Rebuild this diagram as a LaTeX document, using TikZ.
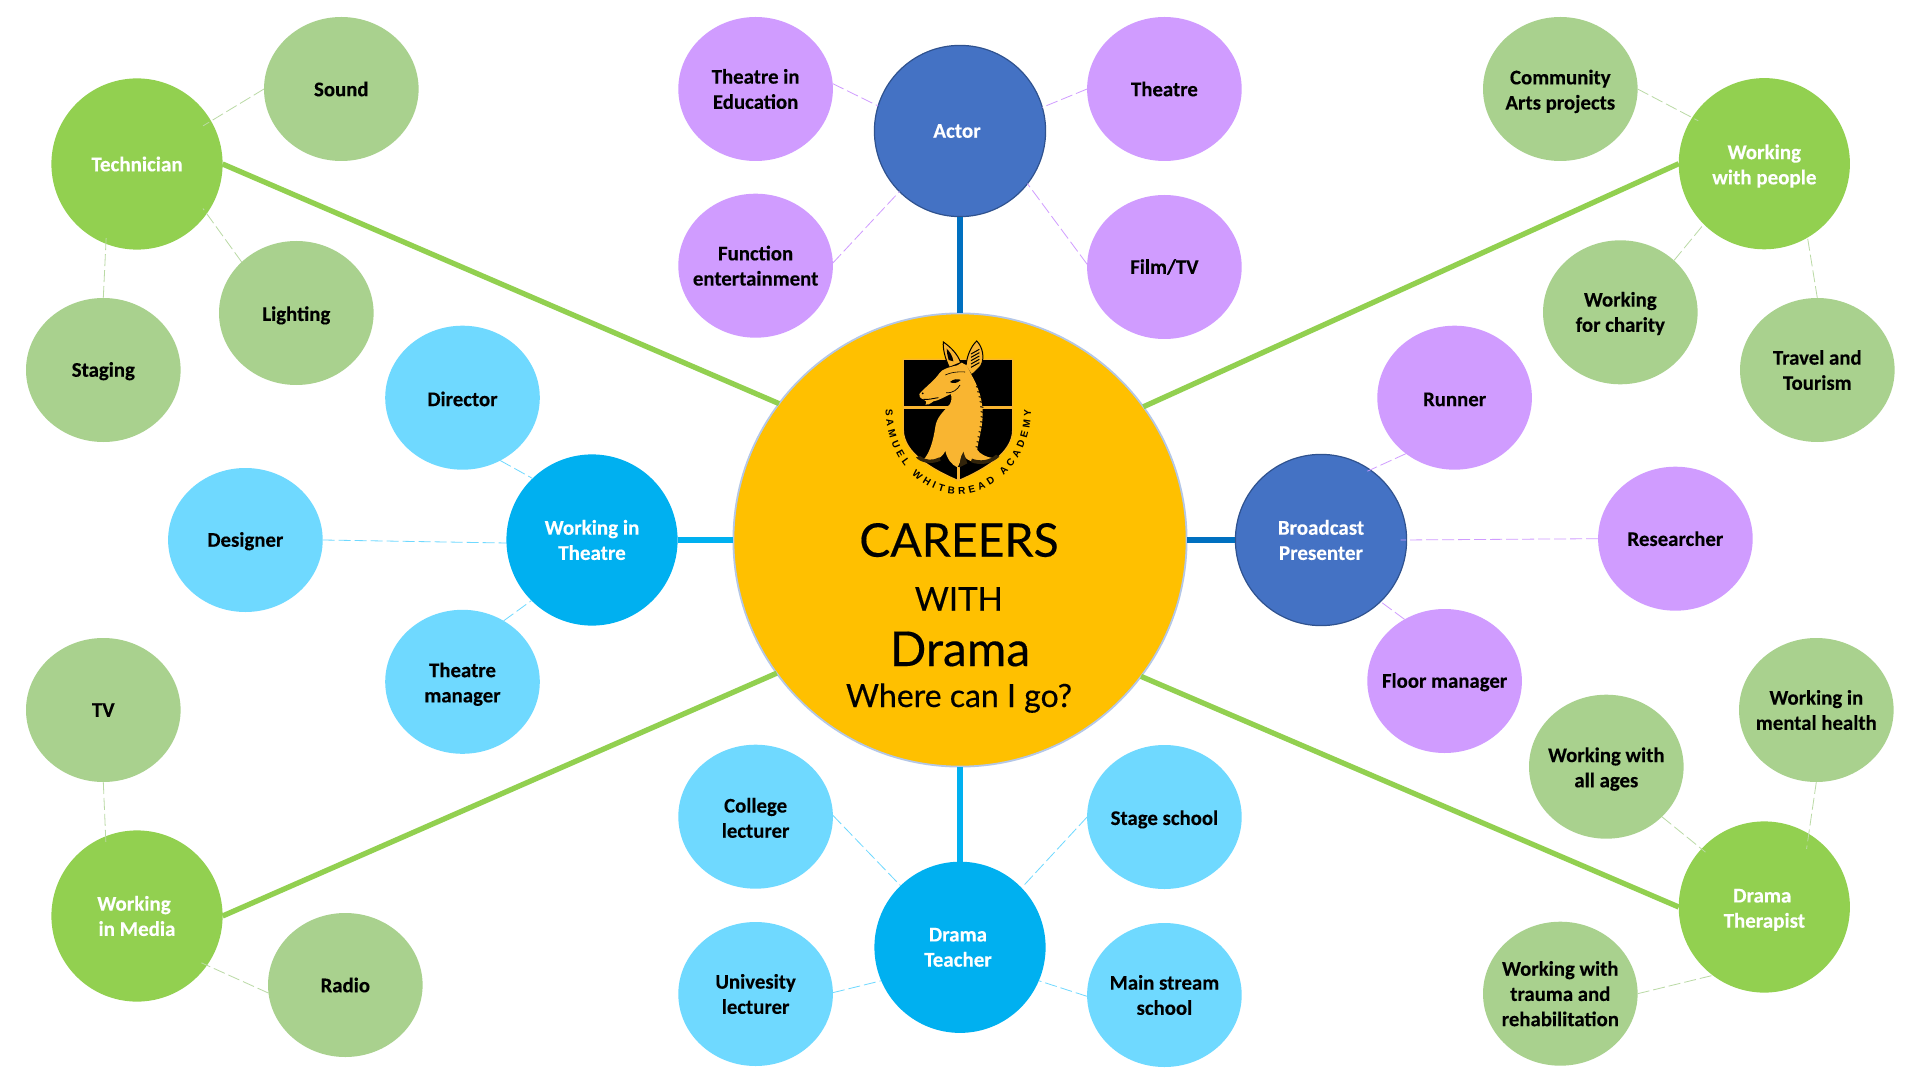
\documentclass[tikz,border=0pt]{standalone}
\usepackage{fontspec}
\setmainfont{Carlito}[BoldFeatures={FakeBold=0.25}]
\newfontfamily\titlefont{Lato}[FakeBold=0.35]
\newfontfamily\logofont{Liberation Sans}
\usetikzlibrary{calc,decorations.text,shapes.geometric}
\definecolor{hubgold}{HTML}{FFC000}
\definecolor{hubedge}{HTML}{B4C7E7}
\definecolor{greenhub}{HTML}{92D050}
\definecolor{greensat}{HTML}{A9D18E}
\definecolor{skyhub}{HTML}{00B0F0}
\definecolor{skysat}{HTML}{6FD9FF}
\definecolor{royalhub}{HTML}{4472C4}
\definecolor{royaledge}{HTML}{2F528F}
\definecolor{royalline}{HTML}{0070C0}
\definecolor{lilac}{HTML}{D09CFF}
\definecolor{deer}{HTML}{F9B531}
\newcommand\lowone{\rule{0pt}{8.5pt}}
\newcommand\lowtwo{\rule{0pt}{9.7pt}}
\tikzset{
  sat/.style={ellipse,inner sep=-30pt,outer sep=0pt,minimum width=77.3pt,minimum height=72pt,align=center,text=black,font=\fontsize{10.4}{12.6}\selectfont\bfseries},
  satgreen/.style={sat,fill=greensat},
  satsky/.style={sat,fill=skysat},
  satlilac/.style={sat,fill=lilac},
  hubnode/.style={ellipse,inner sep=-30pt,outer sep=0pt,minimum width=85.6pt,minimum height=85.6pt,align=center,text=white,font=\fontsize{10.5}{12.6}\selectfont\bfseries},
  hubgreen/.style={hubnode,fill=greenhub},
  hubsky/.style={hubnode,fill=skyhub},
  hubroyal/.style={hubnode,fill=royalhub,draw=royaledge,line width=.6pt},
  spoke/.style={line width=2.65pt},
  twig/.style={line width=.4pt,dash pattern=on 6pt off 2pt},
  twiggreen/.style={twig,draw=greensat!80!white},
  twigsky/.style={twig,draw=skysat},
  twiglilac/.style={twig,draw=lilac},
  titletext/.style={anchor=base,text=black,inner sep=0pt}
}
\begin{document}
\begin{tikzpicture}[x=.5pt,y=-.5pt]
\useasboundingbox (0,0) rectangle (1920,1080);
\fill[white] (0,0) rectangle (1920,1080);

\node[ellipse,fill=hubgold,draw=hubedge,line width=.9pt,inner sep=0pt,outer sep=0pt,minimum width=226.6pt,minimum height=226.6pt] (centre) at (960,540) {};

% hubs
\node[hubgreen] (tech) at (137,164) {Technician};
\node[hubgreen] (people) at (1764.3,163.7) {\lowtwo Working\\with people};
\node[hubgreen] (media) at (137,916) {\hspace*{-3pt}Working\\in Media};
\node[hubgreen] (therapist) at (1764.3,907) {\hspace*{-2pt}\lowtwo Drama\\Therapist};
\node[hubsky] (wit) at (592,540) {Working in\\Theatre};
\node[hubsky] (teacher) at (960,947.3) {\hspace*{-2pt}Drama\\\hspace*{-2pt}Teacher};
\node[hubroyal] (actor) at (960,131) {\hspace*{-3pt}Actor};
\node[hubroyal] (broadcast) at (1321,540) {Broadcast\\Presenter};

% satellites
\node[satgreen] (sound) at (341.3,89) {Sound};
\node[satgreen] (lighting) at (296.3,313) {\lowtwo Lighting};
\node[satgreen] (staging) at (103.3,370) {\lowone Staging};
\node[satgreen] (tv) at (103.3,710) {TV};
\node[satgreen] (radio) at (345.3,985) {Radio};
\node[satgreen] (community) at (1560.3,89) {\lowtwo Community\\Arts projects};
\node[satgreen] (charity) at (1620.3,312.3) {\lowone Working\\for charity};
\node[satgreen] (travel) at (1817.3,370) {Travel and\\Tourism};
\node[satgreen] (mental) at (1816.3,710) {Working in\\mental health};
\node[satgreen] (ages) at (1606.3,766.7) {\lowtwo Working with\\all ages};
\node[satgreen] (trauma) at (1560.3,993.7) {Working with\\trauma and\\rehabilitation};
\node[satsky] (director) at (462.5,397.7) {\lowone Director};
\node[satsky] (designer) at (245.4,540) {\lowone Designer};
\node[satsky] (tmanager) at (462.5,681.8) {\lowtwo Theatre\\manager};
\node[satsky] (college) at (755.6,816.7) {\lowone College\\lecturer};
\node[satsky] (univ) at (755.6,994) {Univesity\\lecturer};
\node[satsky] (stage) at (1164.4,817) {\lowtwo Stage school};
\node[satsky] (mainstream) at (1164.4,995) {Main stream\\school};
\node[satlilac] (tie) at (755.6,89) {Theatre in\\Education};
\node[satlilac] (function) at (755.6,265.7) {Function\\entertainment};
\node[satlilac] (theatre) at (1164.4,89) {Theatre};
\node[satlilac] (film) at (1164.4,267) {Film/TV};
\node[satlilac] (runner) at (1454.6,397.7) {\lowone Runner};
\node[satlilac] (researcher) at (1675.4,538.7) {Researcher};
\node[satlilac] (floor) at (1444.6,681) {\lowone Floor manager};

% main spokes
\draw[spoke,greenhub] (tech.east) -- (centre.143.7);
\draw[spoke,greenhub] (people.west) -- (centre.36.2);
\draw[spoke,greenhub] (media.east) -- (centre.216.1);
\draw[spoke,greenhub] (therapist.west) -- (centre.323.4);
\draw[spoke,skyhub] (wit.east) -- (centre.west);
\draw[spoke,skyhub] (teacher.north) -- (centre.south);
\draw[spoke,royalline] (actor.south) -- (centre.north);
\draw[spoke,royalline] (broadcast.west) -- (centre.east);

% dashed twigs
\draw[twiggreen] (sound.west) -- ($(tech)!.89!(tech.30.8)$);
\draw[twiggreen] (lighting.137) -- ($(tech)!.93!(tech.-34.7)$);
\draw[twiggreen] (staging.north) -- ($(tech)!.92!(tech.247)$);
\draw[twiggreen] (tv.south) -- ($(media)!.93!(media.113.6)$);
\draw[twiggreen] (radio.186) -- ($(media)!.93!(media.-36.2)$);
\draw[twiggreen] (community.east) -- ($(people)!.92!(people.147)$);
\draw[twiggreen] (charity.44) -- (people.225.6);
\draw[twiggreen] (travel.north) -- ($(people)!.97!(people.-59.3)$);
\draw[twiggreen] (mental.south) -- ($(therapist)!.84!(therapist.54.6)$);
\draw[twiggreen] (ages.-42.7) -- ($(therapist)!.94!(therapist.137.5)$);
\draw[twiggreen] (trauma.east) -- (therapist.233.3);
\draw[twigsky] (director.-59.6) -- (wit.134.6);
\draw[twigsky] (designer.east) -- (wit.182);
\draw[twigsky] (tmanager.56.8) -- (wit.225.9);
\draw[twigsky] (college.1.5) -- (teacher.134.7);
\draw[twigsky] (univ.1) -- (teacher.203.8);
\draw[twigsky] (stage.west) -- (teacher.44.5);
\draw[twigsky] (mainstream.181) -- (teacher.-23.8);
\draw[twiglilac] (tie.4) -- (actor.163);
\draw[twiglilac] (function.2) -- (actor.225);
\draw[twiglilac] (theatre.west) -- (actor.16);
\draw[twiglilac] (film.178) -- (actor.-38.6);
\draw[twiglilac] (runner.229.6) -- ($(broadcast)!.97!(broadcast.56.8)$);
\draw[twiglilac] (researcher.west) -- ($(broadcast)!.93!(broadcast.east)$);
\draw[twiglilac] (floor.123) -- (broadcast.-46.7);

% crest, in crop units of 3 per picture pixel
\begin{scope}[shift={(870,330)},scale=1/3]
  % shield
  \path[fill=black,draw=deer!85!hubgold,line width=.6pt]
    (100,88) -- (428,88) -- (428,300)
    .. controls (428,370) and (340,420) .. (265,452)
    .. controls (190,420) and (100,370) .. (100,300) -- cycle;
  \fill[deer] (100,227) rectangle (428,236);
  \fill[deer] (261,410) rectangle (270,450);
  % ears
  \path[fill=deer,draw=black,line width=.5pt]
    (238,112) .. controls (225,85) and (218,55) .. (220,36)
    .. controls (240,50) and (262,70) .. (272,98) -- cycle;
  \path[fill=black] (236,90) .. controls (232,75) and (230,65) .. (230,56)
    .. controls (240,66) and (248,78) .. (250,94) -- cycle;
  \path[fill=deer,draw=black,line width=.5pt]
    (288,108) .. controls (290,80) and (302,50) .. (320,33)
    .. controls (338,50) and (345,85) .. (332,108)
    .. controls (322,118) and (312,130) .. (304,134) -- cycle;
  \foreach \ya in {58,68,78,88,98}
    \draw[black,line width=.5pt] (303,\ya+14) -- (328,\ya);
  % head, neck and mantling
  \path[fill=deer]
    (148,192) .. controls (165,172) and (195,150) .. (208,130)
    .. controls (215,118) and (235,112) .. (262,106)
    -- (275,98) -- (290,106) -- (304,134)
    .. controls (322,165) and (338,205) .. (338,250)
    .. controls (338,300) and (322,340) .. (322,360)
    .. controls (330,372) and (350,382) .. (368,384)
    .. controls (340,398) and (310,400) .. (292,388)
    .. controls (282,380) and (278,372) .. (276,372)
    .. controls (272,390) and (268,405) .. (262,412)
    .. controls (245,405) and (230,385) .. (226,362)
    .. controls (220,380) and (195,398) .. (158,392)
    .. controls (180,370) and (190,330) .. (196,290)
    .. controls (200,262) and (220,245) .. (240,222)
    .. controls (245,212) and (246,200) .. (242,192)
    .. controls (225,200) and (205,212) .. (190,214)
    .. controls (180,222) and (172,226) .. (166,224)
    .. controls (172,216) and (168,212) .. (160,208)
    .. controls (150,205) and (146,198) .. (148,192) -- cycle;
  % face details
  \draw[black,line width=.45pt] (160,208) .. controls (175,210) and (190,205) .. (205,203);
  \fill[black] (240,156) .. controls (250,146) and (266,146) .. (272,150) .. controls (262,160) and (248,162) .. (240,156) -- cycle;
  \draw[black,line width=.3pt] (226,135) .. controls (240,128) and (260,124) .. (285,126);
  \fill[black] (158,190) circle (3);
  \draw[black,line width=.35pt] (228,188) .. controls (250,190) and (262,178) .. (270,165);
  % hatching along the back of the neck
  \foreach \ya/\xa in {170/326,185/330,200/334,215/337,230/339,245/340,260/340,275/339,290/337,305/334,320/331,335/328,350/325}
    \draw[black,line width=.5pt] (\xa-8,\ya) -- (\xa+1,\ya+2);
  % collar scrolls
  \path[fill=black!80!deer] (138,382) .. controls (150,398) and (185,405) .. (212,392)
     -- (208,382) .. controls (190,392) and (165,392) .. (150,378) -- cycle;
  \path[fill=black!80!deer] (302,396) .. controls (330,408) and (365,402) .. (388,380)
     -- (378,374) .. controls (358,392) and (330,395) .. (306,386) -- cycle;
  \path[fill=black!80!deer] (280,365) -- (292,400) -- (268,412) -- (272,385) -- cycle;
  % ring of lettering
  \path[postaction={decorate,decoration={text along path,text align=fit to path,
      text={|\logofont\fontsize{5}{6}\selectfont\bfseries|SAMUEL WHITBREAD ACADEMY}}}]
    (47,238) .. controls (47,376) and (145,492) .. (265,492)
    .. controls (385,492) and (483,376) .. (483,238);
\end{scope}

% title
\node[titletext,font=\titlefont\fontsize{23.2}{26}\selectfont] (careers) at (959,556.7) {CAREERS};
\node[titletext,font=\titlefont\fontsize{16.5}{18}\selectfont] (with) at (958.8,610.7) {WITH};
\node[titletext,font=\titlefont\fontsize{24}{26}\selectfont] (drama) at (960,666) {Drama};
\node[titletext,font=\titlefont\fontsize{16}{18}\selectfont] (where) at (959,707) {Where can I go?};
\end{tikzpicture}
\end{document}
